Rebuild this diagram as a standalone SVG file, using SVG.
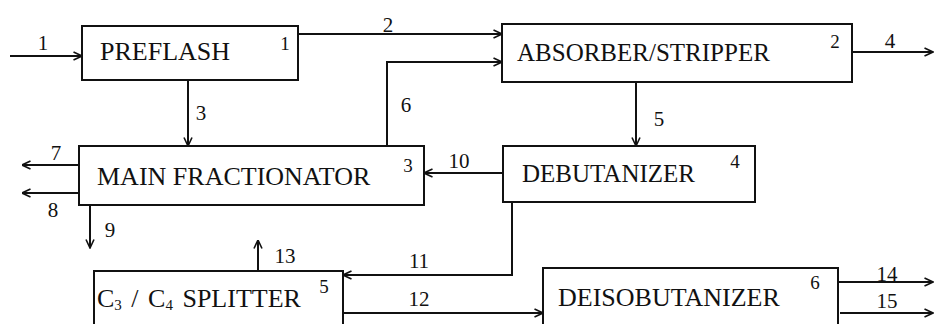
<svg xmlns="http://www.w3.org/2000/svg" width="934" height="324" viewBox="0 0 934 324">
<style>
.box{fill:#fff;stroke:#111;stroke-width:2}
.ln{fill:none;stroke:#111;stroke-width:2;marker-end:url(#ah)}
.t{font-family:"Liberation Serif","Times New Roman",serif;font-size:26px;fill:#111}
.s{font-size:25px}
.n{font-family:"Liberation Serif","Times New Roman",serif;font-size:19px;fill:#111;text-anchor:middle}
.f{font-family:"Liberation Serif","Times New Roman",serif;font-size:21px;fill:#111;text-anchor:middle}
</style>
<defs>
<marker id="ah" viewBox="0 0 10 10" refX="9.5" refY="5" markerWidth="10" markerHeight="10" markerUnits="userSpaceOnUse" orient="auto">
<path d="M1,1 L9.5,5 L1,9" fill="none" stroke="#111" stroke-width="1.6"/>
</marker>
</defs>
<rect width="934" height="324" fill="#fff"/>
<g id="connectors">
<path class="ln" d="M10,56 H82"/>
<path class="ln" d="M298,34 H502"/>
<path class="ln" d="M387,146 V62 H502"/>
<path class="ln" d="M188,80 V146"/>
<path class="ln" d="M852,52 H933"/>
<path class="ln" d="M636,82 V146"/>
<path class="ln" d="M503,173 H424"/>
<path class="ln" d="M79,165 H22"/>
<path class="ln" d="M79,193 H22"/>
<path class="ln" d="M90,205 V248"/>
<path class="ln" d="M512,202 V275 H343"/>
<path class="ln" d="M343,313 H543"/>
<path class="ln" d="M258,271 V240"/>
<path class="ln" d="M838,282 H933"/>
<path class="ln" d="M840,313 H933"/>
<text class="f" x="43" y="50">1</text>
<text class="f" x="388" y="32">2</text>
<text class="f" x="201" y="120">3</text>
<text class="f" x="890" y="48">4</text>
<text class="f" x="659" y="126">5</text>
<text class="f" x="406" y="112">6</text>
<text class="f" x="56" y="160">7</text>
<text class="f" x="53" y="217">8</text>
<text class="f" x="110" y="237">9</text>
<text class="f" x="459" y="168">10</text>
<text class="f" x="419" y="268">11</text>
<text class="f" x="419" y="306">12</text>
<text class="f" x="285" y="263">13</text>
<text class="f" x="887" y="281">14</text>
<text class="f" x="887" y="308">15</text>
</g>
<g id="preflash">
<rect class="box" x="82" y="26" width="216" height="54"/>
<text class="t" x="100" y="60">PREFLASH</text>
<text class="n" x="285" y="50">1</text>
</g>
<g id="absorber">
<rect class="box" x="502" y="24" width="350" height="58"/>
<text class="t s" x="517" y="61">ABSORBER/STRIPPER</text>
<text class="n" x="835" y="48">2</text>
</g>
<g id="fractionator">
<rect class="box" x="79" y="146" width="345" height="59"/>
<text class="t" x="97" y="185">MAIN FRACTIONATOR</text>
<text class="n" x="408" y="172">3</text>
</g>
<g id="debutanizer">
<rect class="box" x="503" y="146" width="252" height="56"/>
<text class="t s" x="522" y="182">DEBUTANIZER</text>
<text class="n" x="735" y="168">4</text>
</g>
<g id="splitter">
<rect class="box" x="94" y="271" width="249" height="70"/>
<text class="t" x="97" y="307" word-spacing="3">C<tspan font-size="15" dy="3">3</tspan><tspan dy="-3"> / C</tspan><tspan font-size="15" dy="3">4</tspan><tspan dy="-3"> SPLITTER</tspan></text>
<text class="n" x="324" y="293">5</text>
</g>
<g id="deisobutanizer">
<rect class="box" x="543" y="268" width="295" height="70"/>
<text class="t" x="558" y="306">DEISOBUTANIZER</text>
<text class="n" x="815" y="289">6</text>
</g>
</svg>
